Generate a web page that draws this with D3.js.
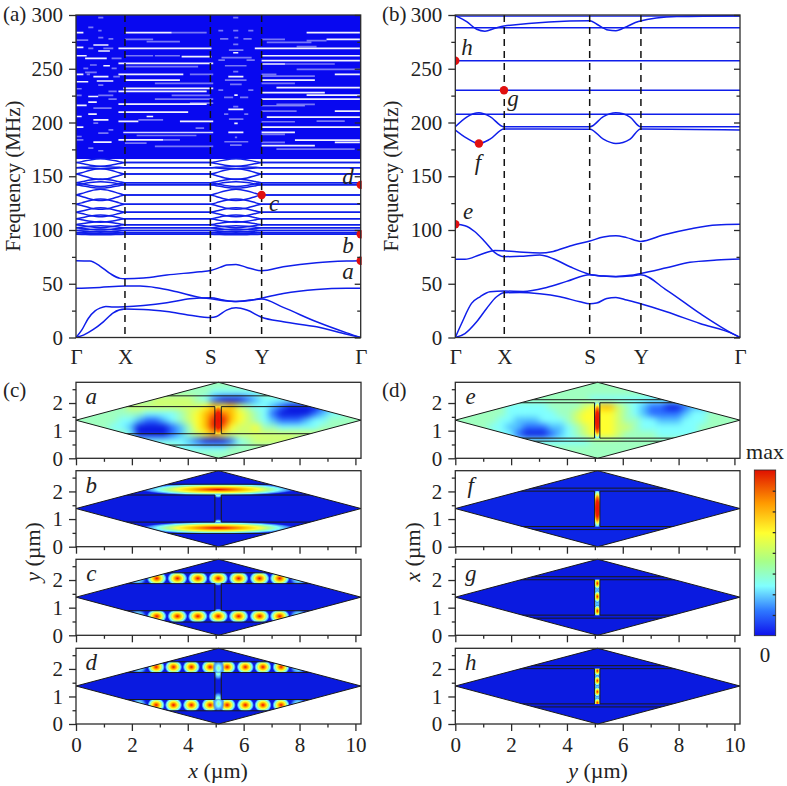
<!DOCTYPE html>
<html><head><meta charset="utf-8">
<script src="https://cdn.jsdelivr.net/npm/d3@7"></script>
<style>html,body{margin:0;background:#fff}svg{display:block}
text{font-family:"Times New Roman","Liberation Serif",Times,serif;fill:#222}</style></head>
<body><svg id="c" width="787" height="786"></svg>
<script>
// ---------- Band diagrams: [k along path (0-100), frequency in MHz] ----------
const pathK=[0,17.2,47.2,65.2,100];
const pathLabels=["Γ","X","S","Y","Γ"];
const bandA1=[[0,71.4],[4.9,71.1],[8.4,66.5],[11.9,59.6],[15.5,55],[17.2,54.7],[23.7,55.3],[31.9,58.1],[43.6,61.2],[47.3,62.4],[50.6,65.2],[52.9,67.4],[56.2,68],[59.95,65.2],[65.2,62.1],[72.8,65.8],[84.5,69.6],[95.1,71.1],[100,71.4]];
const bandA2=[[0,45.7],[8.4,46.6],[17.2,47.8],[22.5,47.8],[28.3,46.3],[35.4,42.5],[43.6,37.3],[47.3,36],[51.8,34.2],[56.2,33.5],[61.1,34.8],[65.2,35.7],[72.8,28],[84.5,14.6],[95.1,4.3],[100,0]];
const bandA3=[[0,0],[2,6.8],[4.3,17.7],[6.7,24.8],[8.4,27.3],[10.5,28.9],[13.1,28.3],[17.2,28.6],[23.7,29.8],[31.9,32.3],[40,36],[47.3,37],[51.8,34.8],[56.2,33.5],[61.1,34.5],[65.2,36.6],[72.8,41],[84.5,44.7],[95.1,45.7],[100,45.7]];
const bandA4=[[0,0],[2.6,2.2],[6.1,7.5],[9.6,14.6],[13.1,23],[17.2,26.4],[23.7,26.1],[31.9,24.2],[40,20.8],[47.3,18.6],[49.4,19.6],[52.9,25.5],[56.2,27.6],[60,25.5],[65.2,18.9],[72.8,14.6],[84.5,9.9],[95.1,3],[100,0]];
// flat phononic bands of (a) and how far each one splits inside Γ-X and S-Y
const flatFreqA=[162.7,158,152,144,142,132.6,124,116.5,110.5,105,102,99.5,97.5,96];
const flatSplitA=[3.5,1,5,3.5,3,5.2,4.8,4.2,3.4,2.8,2,1.5,1,0.5];
const lensK1=[0,2,5,8.6,12.2,15.2,17.2];
const lensK2=[47.2,49.2,52.3,56.2,60.1,63.2,65.2];
const lensShape=[0,.26,.72,1,.72,.26,0];
const denseBandA=[166,300];
// white gaps left between the dense bands of (a): [frequency, k from, k to, strength]
const gapsGammaX=[[297.5,7.8,9.6,.45],[288.5,4.3,6.1,.45],[285.4,7.8,9,.45],[283.6,.24,2.6,.95],[278.9,7.8,9.6,.45],[277.7,11.4,13.1,.45],[276.7,.24,4.3,.45],[272.1,6.1,11.4,.95],[269.9,.24,2.6,.95],[269,4.3,6.1,.45],[269,9.6,13.1,.45],[266.5,7.8,11.9,.95],[262.1,.24,3.75,.95],[259.7,3.2,10.8,.95],[259.7,12.5,16,.45],[253.5,4.9,7.3,.45],[252.8,9.6,11.9,.95],[250.4,2.6,4.3,.45],[250.4,12.5,14.3,.45],[246.6,3.2,7.3,.45],[244.8,.24,2.6,.95],[244.8,3.75,4.9,.45],[242.6,6.1,11.4,.95],[242.6,13.1,15.4,.45],[238.6,7.3,13.1,.95],[237.9,.24,4.3,.95],[234.8,7.8,9.6,.45],[231.4,.24,2,.45],[228.9,11.4,14.3,.45],[225.2,.24,2,.45],[225.2,7.8,13.1,.45],[224.2,4.3,7.8,.95],[221.8,11.4,14.3,.45],[219,4.3,7.3,.95],[215.9,.24,3.75,.95],[213.4,6.1,12.5,.45],[207.8,4.3,7.3,.95],[205.6,.24,2,.95],[202.5,6.1,11.4,.95],[199.4,6.1,7.8,.45],[195.7,.24,2.6,.95],[193.2,11.4,13.1,.45],[190.1,7.8,11.4,.45],[187,.24,2,.45],[183.9,.24,2.6,.45],[181.7,6.1,12.5,.95],[176.2,4.3,6.1,.45],[173.7,7.8,9.6,.45]];
const gapsXS=[[283.6,17.2,33.6,.95],[283.6,33.6,45.9,.45],[277.4,17.2,27.1,.45],[275.2,24.8,36.5,.45],[269,14.9,47.6,.95],[262.1,17.2,27.1,.45],[262.1,27.7,36.5,.45],[261.2,37.1,47.6,.95],[255,14.9,48.2,.95],[251.9,17.2,42.9,.45],[244.8,14.9,37.7,.95],[244.8,40,48.2,.45],[239.5,17.2,36.5,.95],[236.4,27.7,48.2,.45],[231.7,16.6,48.2,.95],[228.9,14.9,45.9,.95],[225.2,33.6,47,.45],[221.8,27.7,48.2,.45],[218,40,48.2,.45],[217.1,14.9,45.9,.95],[209.7,14.9,39.4,.95],[205.6,24.8,27.1,.95],[202.5,21.9,30.6,.45],[201,14.9,21.9,.95],[201,36.5,48.2,.95],[194.8,42,45,.45],[190.7,16.6,48.2,.85],[187.9,21.3,42.3,.45],[183.9,14.9,30.6,.95],[183.9,30.6,36.5,.45],[180.8,17.2,24.8,.45],[177.7,27.7,48.2,.45]];
const gapsSY=[[297.5,55.2,57,.45],[285.4,50,51.7,.45],[285.4,55.2,57,.45],[285.4,60.5,62.3,.45],[278.9,55.6,57,.45],[277.7,50.6,53.5,.45],[277.7,58.8,61.7,.45],[272.7,55.2,57,.45],[267.4,53.7,58.8,.45],[264.9,55.2,57,.95],[260.3,51.1,61.7,.45],[258.1,50,52.3,.45],[258.1,59.9,62.8,.45],[252.8,52.3,59.9,.45],[247.3,55.2,57,.45],[242.6,53.5,58.8,.95],[239.5,52.3,59.9,.45],[235.5,54.1,58.2,.45],[230.2,50,51.7,.45],[230.2,60.5,62.3,.45],[225.5,55.6,56.8,.95],[223.4,52,55.2,.45],[223.4,57.6,60.5,.45],[214.7,55.2,57,.45],[212.2,53.5,58.8,.95],[207.8,52,53.5,.45],[207.8,59.1,60.5,.45],[203.2,53.7,58.8,.45],[199.2,55.6,56.8,.95],[190.8,53.5,58.8,.95],[186.1,55.8,56.6,.45],[182.1,52.1,60.5,.45],[179,54.1,58.2,.45]];
const gapsYGamma=[[283.6,81,99.7,.95],[277.4,65.2,73.4,.45],[277.4,88,99.7,.95],[276.1,81,88,.45],[274.6,67,82.7,.45],[270.5,77.5,84.5,.45],[269,62.8,99.7,.95],[262.1,65.2,99.7,.95],[257.5,65.2,99.7,.95],[254.4,65.2,73.4,.95],[254.4,73.4,90.9,.45],[249.4,77.5,99.7,.45],[244.8,65.2,70.4,.45],[244.8,90.9,99.7,.95],[243.2,65.2,83.9,.45],[239.5,65.2,83.9,.95],[236.4,65.2,76.9,.45],[232.4,70.4,99.7,.95],[227.7,65.2,87.4,.95],[225.5,81,99.7,.95],[221.8,65.2,99.7,.95],[216.8,70.4,83.9,.45],[215.6,65.2,80.4,.45],[210.6,65.2,77.5,.45],[210.6,90.9,99.7,.95],[205,67,99.7,.95],[201.3,84.5,94.4,.45],[200.7,65.2,76.9,.45],[195.7,65.2,99.7,.95],[190.8,65.2,76.9,.95],[188.9,65.2,73.4,.45],[183.6,76.9,99.7,.95],[181.5,65.2,73.4,.45],[181.5,90.9,99.7,.95],[178.4,65.2,83.9,.95],[175.3,70.4,97.9,.45]];
const bandB1=[[0,0],[3.4,3.7],[7.5,14.6],[11,27],[14.5,37.9],[17.1,41.6],[22.7,41.9],[29.7,40.7],[36.8,37.9],[43.8,33.2],[47.3,31.4],[49.6,32],[53.2,36.3],[56.4,37.3],[60.2,34.8],[65.1,31.4],[74.2,23.9],[85.9,13],[97.7,3.1],[100,0]];
const bandB2=[[0,0],[2.2,13],[5.7,31.7],[8.7,37.9],[12.2,42.5],[17.1,43.2],[23.9,42.9],[32.1,46.6],[39.1,52.2],[47.3,58.4],[52,57.1],[56.4,56.8],[61.4,57.8],[65.1,59.6],[74.2,64.9],[82.4,69.9],[91.8,72],[100,73]];
const bandB3=[[0,72.7],[3.4,72.7],[8.7,77],[13.9,81],[17.1,80.7],[23.9,79.2],[29.7,78.6],[34.4,80.1],[40.3,85.1],[47.3,89.8],[52,93.5],[56.4,94.7],[60.2,92.9],[65.1,89.4],[73,95.3],[82.4,100.9],[91.8,104.7],[100,105.3]];
const bandB4=[[0,105.3],[3.4,104],[6.9,98.4],[10.4,89.1],[13.9,78.9],[17.1,75.2],[22.7,75.5],[29.7,76.7],[34.4,73.3],[40.3,65.8],[47.3,58.7],[52,57.1],[56.4,56.5],[61.4,57.1],[65.1,58.4],[74.2,44.1],[85.9,22.4],[97.7,3.1],[100,0]];
const bandB5=[[0,196],[4,205],[8.3,209],[12.2,205.5],[17.1,196],[47.3,196],[52,205.5],[56.4,209],[61.4,205],[65.1,196],[100,196]];
const bandB6=[[0,193],[4,185.4],[8.3,180.4],[12.2,184.5],[17.1,194],[47.3,193.8],[52,184.5],[56.4,180.4],[61.4,184.5],[65.1,194],[100,193]];
const bandB7=[[0,299.4],[4,293.8],[7.5,286.7],[10.4,285],[13.9,287.6],[17.1,289.8],[47.3,294.7],[49.6,291.6],[53.7,286],[56.4,285.4],[60.2,289.2],[64.3,294],[77.8,298.5],[100,299.4]];
const flatFreqB=[207.7,230,257.5,288.2,299];
const pointsA=[["a",100,71.4],["b",100,96],["c",65.2,132.6],["d",100,142]];
const pointsB=[["e",0,105.3],["f",8.3,180.4],["g",17.1,230],["h",0,257.5]];
// ---------- Mode fields ----------
const fieldColors=["#0a1ae0","#2a6cff","#50c0ff","#80ffff","#a0ffc0","#d0ff70","#ffff30","#ffc000","#ff7000","#e81000"];
// field level 0-9, rows top to bottom, columns left to right across the unit cell
const fieldA=[
"4444444444444444444444444444444444",
"4444444444444444333333444444444444",
"4444444445555543100012333333344444",
"4444445555555556767543321000012334",
"4444444433334567887654310000123344",
"4444433211234567997654321112334444",
"4444332000012467986556443333344444",
"4444443000012456765555555555554444",
"4444433333333210001345555544444444",
"4444444444443333334444444444444444",
"4444444444444444444444444444444444"];
const fieldE=[
"4444444444444444444444444444444444",
"4444444444444444444444433333444444",
"4444444444444444333333333333344444",
"4444443333344445677543211001223344",
"4444443333334456666543211112334444",
"4444433222333456666544332223334444",
"4444332211122345666554333333344444",
"4444433100012345666544443333344444",
"4444433333333333444444444444444444",
"4444444444444444444444444444444444",
"4444444444444444444444444444444444"];
// hot spots: [x µm, y µm, x radius, y radius, ramp, region]
const spotsA=[[5.09,1.38,.3,.72,"stub","stub"]];
const spotsB=[[5.09,2.07,2.9,.23,"full","upper"],[5.09,.68,2.9,.23,"full","lower"],[5.09,1.87,.2,.12,"low","stub"],[5.09,.89,.2,.12,"low","stub"]];
const spotsC=[2.89,3.63,4.36,5.09,5.82,6.57,7.29].flatMap(x=>[[x,2.06,.37,.27,"full","upper"],[x,.69,.37,.27,"full","lower"]])
 .concat([[2.2,2.06,.36,.3,"low","upper"],[7.97,2.06,.36,.3,"low","upper"],[2.2,.69,.36,.3,"low","lower"],[7.97,.69,.36,.3,"low","lower"],[5.09,1.9,.2,.12,"low","stub"],[5.09,.86,.2,.12,"low","stub"]]);
const spotsD=[2.87,3.49,4.13,4.8,5.41,6.06,6.69,7.34].flatMap(x=>[[x,2.07,.32,.27,"full","upper"],[x,.69,.32,.27,"full","lower"]])
 .concat([[2.25,2.07,.32,.3,"low","upper"],[7.95,2.07,.32,.3,"low","upper"],[2.25,.69,.32,.3,"low","lower"],[7.95,.69,.32,.3,"low","lower"],[5.1,2.03,.22,.34,"low","upper"],[5.1,.74,.22,.34,"low","lower"],[5.09,1.87,.22,.3,"low","stub"],[5.09,.89,.22,.3,"low","stub"]]);
const spotsE=[[5.09,1.38,.18,.76,"stub","stub"]];
const spotsF=[[5.09,1.38,.16,.72,"stub","stub"]];
const spotsG=[[5.09,1.88,.13,.23,"full","stub"],[5.09,1.4,.13,.23,"full","stub"],[5.09,.88,.13,.23,"full","stub"]];
const spotsH=[[5.09,1.93,.13,.19,"full","stub"],[5.09,1.57,.13,.19,"full","stub"],[5.09,1.17,.13,.19,"full","stub"],[5.09,.77,.13,.19,"full","stub"]];
const cellTop=2.75,cellWidth=10.2,diamondMid=1.38,diamondApex=5.1;
const geomLeft={strip:[2.26,.48],rect:[1.87,.89],stub:[4.97,5.2]};
const geomRight={strip:[2.12,.62],rect:[2.01,.73],stub:[4.99,5.18]};
const rampStops={
 full:[[0,"#e81000",1],[.18,"#ff7000",1],[.35,"#ffd000",1],[.5,"#ffff40",1],[.62,"#b0ff90",1],[.75,"#80ffff",1],[.88,"#4090ff",.9],[1,"#0a1ae0",0]],
 stub:[[0,"#e81000",1],[.4,"#f02000",1],[.58,"#ff8000",1],[.72,"#ffff40",1],[.86,"#80ffff",1],[1,"#4090ff",.4]],
 low:[[0,"#a8ffa0",1],[.3,"#80ffff",1],[.65,"#4090ff",.9],[1,"#0a1ae0",0]]};
const barStops=[[0,"#0e10ec"],[.15,"#2e78ff"],[.3,"#80ffff"],[.45,"#a8ff88"],[.62,"#ffff30"],[.8,"#ff9a00"],[1,"#e01000"]];

// ---------- Drawing ----------
const svg=d3.select("#c"),defs=svg.append("defs");
const FREQ=[0,50,100,150,200,250,300],FREQ_MINOR=[25,75,125,175,225,275];
const plotTop=15,plotBottom=337.5,BLUE="#0f1eea",INK="#2b2b2b";
const fs=21,FONT='"Times New Roman","Liberation Serif",Times,serif';
function styleAxis(g){g.select(".domain").remove();g.selectAll("line").attr("stroke",INK).attr("stroke-width",1.3);
 g.selectAll("text").attr("font-size",fs).attr("fill","#222").style("font-family",FONT);return g;}
const lineGen=(x,y)=>d3.line().x(d=>x(d[0])).y(d=>y(d[1])).curve(d3.curveMonotoneX);
function bandPanel(id,left,right,bands,flat,points,labels,extra){
 const x=d3.scaleLinear().domain([0,100]).range([left,right]);
 const y=d3.scaleLinear().domain([0,300]).range([plotBottom,plotTop]);
 const g=svg.append("g");
 defs.append("clipPath").attr("id",id).append("rect").attr("x",left).attr("y",plotTop).attr("width",right-left+1).attr("height",plotBottom-plotTop);
 const body=g.append("g").attr("clip-path",`url(#${id})`);
 if(extra)extra(body,x,y);
 const ln=lineGen(x,y);
 body.selectAll(".fl").data(flat).join("line").attr("x1",x(0)).attr("x2",x(100)).attr("y1",d=>y(d)).attr("y2",d=>y(d))
  .attr("stroke",BLUE).attr("stroke-width",1.4);
 body.selectAll(".bd").data(bands).join("path").attr("d",ln).attr("fill","none").attr("stroke",BLUE).attr("stroke-width",1.5);
 g.selectAll(".v").data(pathK.slice(1,4)).join("line").attr("x1",d=>x(d)).attr("x2",d=>x(d)).attr("y1",plotTop).attr("y2",plotBottom)
  .attr("stroke","#111").attr("stroke-width",1.5).attr("stroke-dasharray","7 5");
 g.append("g").attr("clip-path",`url(#${id})`).selectAll("circle").data(points).join("circle").attr("cx",d=>x(d[1])).attr("cy",d=>y(d[2])).attr("r",4.2).attr("fill","#e01010");
 g.append("rect").attr("x",left).attr("y",plotTop).attr("width",right-left).attr("height",plotBottom-plotTop).attr("fill","none").attr("stroke",INK).attr("stroke-width",1.3);
 g.append("g").attr("transform",`translate(${left},0)`).call(d3.axisLeft(y).tickValues(FREQ).tickSize(7).tickPadding(6).tickSizeOuter(0)).call(styleAxis);
 g.append("g").attr("transform",`translate(${left},0)`).call(d3.axisLeft(y).tickValues(FREQ_MINOR).tickSize(4).tickFormat("").tickSizeOuter(0)).call(styleAxis);
 g.append("g").attr("transform",`translate(${right},0)`).call(d3.axisRight(y).tickValues(FREQ).tickSize(-6).tickFormat("").tickSizeOuter(0)).call(styleAxis);
 g.append("g").attr("transform",`translate(${right},0)`).call(d3.axisRight(y).tickValues(FREQ_MINOR).tickSize(-3.5).tickFormat("").tickSizeOuter(0)).call(styleAxis);
 g.append("g").attr("transform",`translate(0,${plotBottom})`).call(d3.axisBottom(x).tickValues(pathK).tickSize(0).tickPadding(12).tickFormat((d,i)=>pathLabels[i]).tickSizeOuter(0)).call(styleAxis);
 g.selectAll(".lab").data(labels).join("text").attr("x",d=>d[1]).attr("y",d=>d[2]).text(d=>d[0])
  .attr("font-size",23).attr("font-style","italic").attr("text-anchor","middle");
}
const lensLine=(f,s,sign)=>lensK1.map((k,i)=>[k,f+sign*s*lensShape[i]]).concat(lensK2.map((k,i)=>[k,f+sign*s*lensShape[i]])).concat([[100,f]]);
const bandsA=[bandA1,bandA2,bandA3,bandA4].concat(flatFreqA.flatMap((f,i)=>[lensLine(f,flatSplitA[i],1),lensLine(f,flatSplitA[i],-1)]));
bandPanel("pa",76,360.7,bandsA,[],pointsA,[["d",348,184],["c",274,211],["b",348,253],["a",348,279]],(b,x,y)=>{
 b.append("rect").attr("x",x(0)).attr("width",x(100)-x(0)).attr("y",y(denseBandA[1])).attr("height",y(denseBandA[0])-y(denseBandA[1])).attr("fill","#0808f0");
 b.selectAll(".gap").data([...gapsGammaX,...gapsXS,...gapsSY,...gapsYGamma]).join("line")
  .attr("x1",d=>x(d[1])).attr("x2",d=>x(d[2])).attr("y1",d=>y(d[0])).attr("y2",d=>y(d[0]))
  .attr("stroke","#fff").attr("stroke-opacity",d=>d[3]).attr("stroke-width",1.7);
});
bandPanel("pb",455.3,740,[bandB1,bandB2,bandB3,bandB4,bandB5,bandB6,bandB7],flatFreqB,pointsB,[["h",467,55],["g",513,106],["f",478,170],["e",468,219]]);

Object.entries(rampStops).forEach(([k,st])=>{const gr=defs.append("radialGradient").attr("id","ramp-"+k);
 st.forEach(s=>gr.append("stop").attr("offset",s[0]).attr("stop-color",s[1]).attr("stop-opacity",s[2]));});
const bar=defs.append("linearGradient").attr("id","bar").attr("x1",0).attr("x2",0).attr("y1",1).attr("y2",0);
barStops.forEach(s=>bar.append("stop").attr("offset",s[0]).attr("stop-color",s[1]));
const blur=defs.append("filter").attr("id","soft").attr("filterUnits","userSpaceOnUse").attr("x",0).attr("y",0).attr("width",787).attr("height",786)
 .attr("color-interpolation-filters","sRGB");
blur.append("feGaussianBlur").attr("stdDeviation","3.6 3");

const level=d3.scaleLinear().domain(d3.range(fieldColors.length)).range(fieldColors).interpolate(d3.interpolateRgb);
const X_MAJOR=[0,2,4,6,8,10],X_MINOR=[1,3,5,7,9],Y_MAJOR=[0,1,2],Y_MINOR=[.5,1.5,2.5];
const rows=[[382.3,458.3],[470.7,546.7],[559.3,635.3],[648.3,724]];
function fieldPanel(id,row,left,right,geom,cfg){
 const [top,bot]=rows[row];
 const x=d3.scaleLinear().domain([0,cellWidth]).range([left,right]);
 const y=d3.scaleLinear().domain([0,cellTop]).range([bot,top]);
 const g=svg.append("g");
 const diamond=[[0,diamondMid],[diamondApex,cellTop],[cellWidth,diamondMid],[diamondApex,0]];
 const poly=diamond.map(d=>[x(d[0]),y(d[1])].join(",")).join(" ");
 defs.append("clipPath").attr("id",id).append("polygon").attr("points",poly);
 const regions={upper:[geom.rect[0],geom.strip[0],0,cellWidth],lower:[geom.strip[1],geom.rect[1],0,cellWidth],stub:[geom.rect[1],geom.rect[0],geom.stub[0],geom.stub[1]]};
 Object.entries(regions).forEach(([k,r])=>{defs.append("clipPath").attr("id",id+k).append("rect")
  .attr("x",x(r[2])).attr("width",x(r[3])-x(r[2])).attr("y",y(r[1])).attr("height",y(r[0])-y(r[1]));});
 const body=g.append("g").attr("clip-path",`url(#${id})`);
 body.append("rect").attr("x",left).attr("y",top).attr("width",right-left).attr("height",bot-top).attr("fill",cfg.base);
 if(cfg.field){
  const nr=cfg.field.length,nc=cfg.field[0].length;
  const cw=cellWidth/nc,ch=cellTop/nr;
  const cells=cfg.field.flatMap((r,j)=>Array.from(r).map((v,i)=>({i,j,v:+v})));
  body.append("g").attr("filter","url(#soft)").selectAll("rect").data(cells).join("rect")
   .attr("x",d=>x(d.i*cw)).attr("y",d=>y(cellTop-d.j*ch)).attr("width",x(cw)-x(0)+.6).attr("height",y(0)-y(ch)+.6).attr("fill",d=>level(d.v));
 }
 if(cfg.stubFill)g.append("rect").attr("x",x(geom.stub[0])).attr("width",x(geom.stub[1])-x(geom.stub[0])).attr("y",y(geom.rect[0])).attr("height",y(geom.rect[1])-y(geom.rect[0])).attr("fill",cfg.stubFill);
 ["upper","lower","stub"].forEach(reg=>{
  g.append("g").attr("clip-path",`url(#${id}${reg})`).append("g").attr("clip-path",`url(#${id})`).selectAll("ellipse").data(cfg.spots.filter(s=>s[5]===reg)).join("ellipse")
   .attr("cx",d=>x(d[0])).attr("cy",d=>y(d[1])).attr("rx",d=>x(d[2])-x(0)).attr("ry",d=>y(0)-y(d[3])).attr("fill",d=>`url(#ramp-${d[4]})`);
 });
 const [s0,s1]=geom.stub,[r1,r0]=geom.rect;
 const segs=[[0,geom.strip[0],cellWidth,geom.strip[0]],[0,geom.strip[1],cellWidth,geom.strip[1]],
  [0,r1,s0,r1],[s1,r1,cellWidth,r1],[0,r0,s0,r0],[s1,r0,cellWidth,r0],[s0,r0,s0,r1],[s1,r0,s1,r1]];
 g.append("g").attr("clip-path",`url(#${id})`).selectAll("line").data(segs).join("line")
  .attr("x1",d=>x(d[0])).attr("y1",d=>y(d[1])).attr("x2",d=>x(d[2])).attr("y2",d=>y(d[3])).attr("stroke","#1a1a1a").attr("stroke-width",1);
 g.append("polygon").attr("points",poly).attr("fill","none").attr("stroke","#1a1a1a").attr("stroke-width",1);
 g.append("rect").attr("x",left).attr("y",top).attr("width",right-left).attr("height",bot-top).attr("fill","none").attr("stroke",INK).attr("stroke-width",1.3);
 g.append("g").attr("transform",`translate(${left},0)`).call(d3.axisLeft(y).tickValues(Y_MAJOR).tickSize(7).tickPadding(6).tickFormat(d3.format("d")).tickSizeOuter(0)).call(styleAxis);
 g.append("g").attr("transform",`translate(${left},0)`).call(d3.axisLeft(y).tickValues(Y_MINOR).tickSize(3.5).tickFormat("").tickSizeOuter(0)).call(styleAxis);
 const xa=d3.axisBottom(x).tickValues(X_MAJOR).tickSize(7).tickPadding(6).tickSizeOuter(0);
 if(row<3)xa.tickFormat("");
 g.append("g").attr("transform",`translate(0,${bot})`).call(xa).call(styleAxis);
 g.append("g").attr("transform",`translate(0,${bot})`).call(d3.axisBottom(x).tickValues(X_MINOR).tickSize(3.5).tickFormat("").tickSizeOuter(0)).call(styleAxis);
 g.append("text").attr("x",x(.55)).attr("y",top+22).text(cfg.label).attr("font-size",23).attr("font-style","italic").attr("text-anchor","middle");
}
const BLUEF="#0a1ae0";
fieldPanel("fa",0,76,361,geomLeft,{label:"a",base:"#a0ffc0",field:fieldA,spots:spotsA});
fieldPanel("fb",1,76,361,geomLeft,{label:"b",base:BLUEF,spots:spotsB});
fieldPanel("fc",2,76,361,geomLeft,{label:"c",base:BLUEF,spots:spotsC});
fieldPanel("fd",3,76,361,geomLeft,{label:"d",base:BLUEF,spots:spotsD});
fieldPanel("fe",0,455.3,740,geomRight,{label:"e",base:"#a0ffc0",field:fieldE,spots:spotsE,stubFill:"#50a0ff"});
fieldPanel("ff",1,455.3,740,geomRight,{label:"f",base:"#0c24e6",spots:spotsF,stubFill:"#50a0ff"});
fieldPanel("fg",2,455.3,740,geomRight,{label:"g",base:BLUEF,spots:spotsG,stubFill:"#50c0ff"});
fieldPanel("fh",3,455.3,740,geomRight,{label:"h",base:BLUEF,spots:spotsH,stubFill:"#50c0ff"});

const barScale=d3.scaleLinear().domain([0,8]).range([635.7,470]);
svg.append("rect").attr("x",754.3).attr("y",470).attr("width",21.4).attr("height",165.7).attr("fill","url(#bar)").attr("stroke",INK).attr("stroke-width",.8);
svg.append("g").attr("transform","translate(775.7,0)").call(d3.axisRight(barScale).tickValues(d3.range(1,8)).tickSize(-3).tickFormat("").tickSizeOuter(0)).call(styleAxis);
const txt=(s,x,y,o={})=>svg.append("text").attr("x",x).attr("y",y).attr("font-size",o.size||fs).attr("text-anchor",o.anchor||"start").attr("transform",o.rot?`rotate(-90 ${x} ${y})`:null).text(s);
txt("max",765,459,{anchor:"middle",size:22});
txt("0",765,662,{anchor:"middle"});
txt("(a)",3,21);txt("(b)",382,21);txt("(c)",3,397);txt("(d)",382,397);
txt("Frequency (MHz)",20,176,{anchor:"middle",rot:1});
txt("Frequency (MHz)",398,176,{anchor:"middle",rot:1});
function mixed(x,y,it,rest,rot){const t=svg.append("text").attr("x",x).attr("y",y).attr("font-size",22).attr("text-anchor","middle").attr("transform",rot?`rotate(-90 ${x} ${y})`:null);
 t.append("tspan").attr("font-style","italic").text(it);t.append("tspan").text(rest);}
mixed(218,778,"x"," (µm)");mixed(598,778,"y"," (µm)");
mixed(40,552,"y"," (µm)",1);mixed(420,552,"x"," (µm)",1);
</script></body></html>
